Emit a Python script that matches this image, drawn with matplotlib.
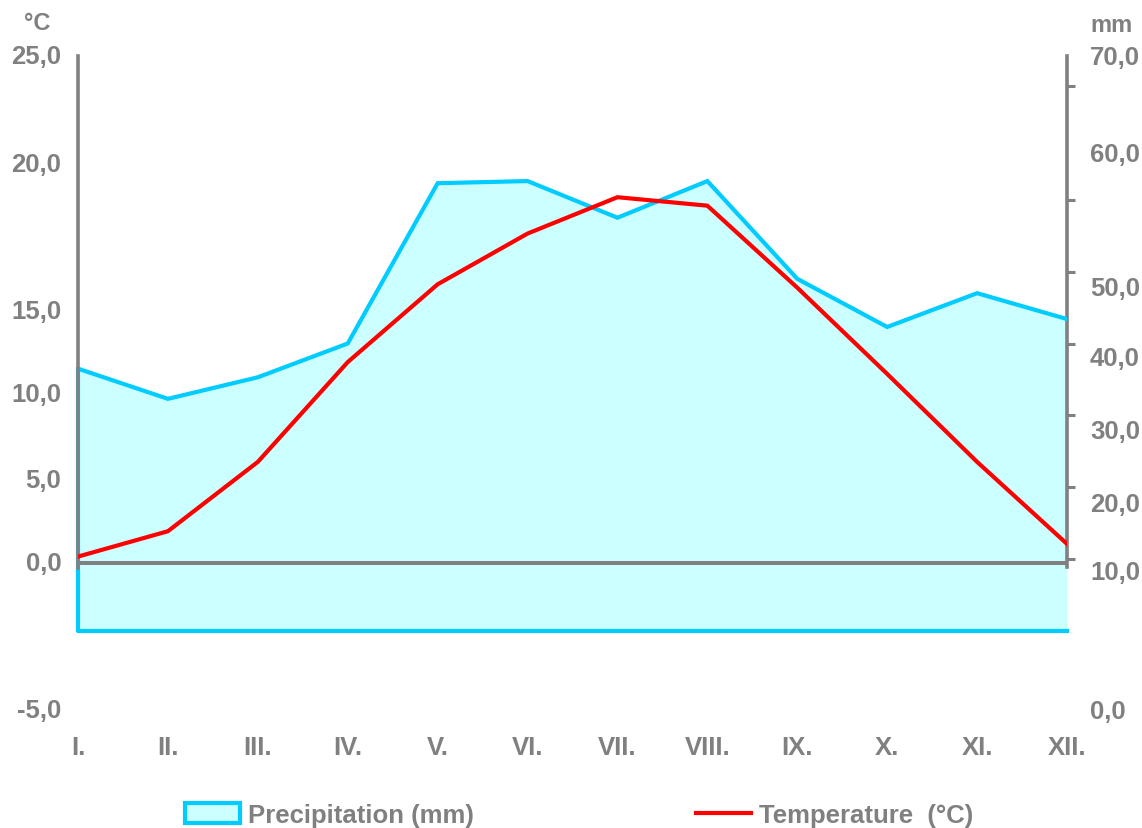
import matplotlib
matplotlib.use("Agg")
import matplotlib.pyplot as plt
from matplotlib.patches import Patch
from matplotlib.lines import Line2D

# ---- data ----
months = ["I.", "II.", "III.", "IV.", "V.", "VI.", "VII.", "VIII.", "IX.", "X.", "XI.", "XII."]
precipitation = [36.5, 32.3, 35.3, 40.0, 62.3, 62.6, 57.5, 62.6, 49.0, 42.3, 47.0, 43.4]
temperature = [0.4, 1.9, 6.0, 11.9, 16.5, 19.5, 21.65, 21.15, 16.3, 11.2, 6.0, 1.15]

left_labels = ["25,0", "20,0", "15,0", "10,0", "5,0", "0,0", "-5,0"]
right_labels = ["70,0", "60,0", "50,0", "40,0", "30,0", "20,0", "10,0", "0,0"]
right_ticks = [10, 20, 30, 40, 50, 60, 75.8]

# label placements as they appear in the reference (axis units)
left_label_pos = [30.0, 23.6, 14.95, 10.0, 4.95, 0.05, -8.7]
right_label_pos = [79.9, 66.4, 47.7, 38.0, 27.8, 17.7, 8.2, -11.1]

GRAY = "#808080"
CYAN = "#00CCFF"
FILL = "#CCFFFF"
RED = "#FF0000"
FONT = "Liberation Sans"
FS = 18.5

plt.rcParams["font.family"] = [FONT, "DejaVu Sans"]
plt.rcParams["font.weight"] = "bold"

W, H = 1142, 829
fig = plt.figure(figsize=(W / 100, H / 100), dpi=100)
L, R, T, B = 78, 1067, 57, 632
ax = fig.add_axes([L / W, 1 - B / H, (R - L) / W, (B - T) / H])
ax2 = ax.twinx()

x = list(range(len(months)))

# precipitation area (bottom axes)
ax.fill_between(x, 0, precipitation, color=FILL, lw=0, zorder=1)
ax.plot(x, precipitation, color=CYAN, lw=3.0, zorder=3, solid_joinstyle="miter")
ax.plot([x[0], x[0], x[-1]], [precipitation[0], 0, 0], color=CYAN, lw=3.0,
        zorder=2, clip_on=False, solid_capstyle="projecting")
ax.set_xlim(0, 11)
ax.set_ylim(0, 80)

# temperature (top axes)
ax2.axhline(0, color=GRAY, lw=2.9, zorder=1)
ax2.plot(x, temperature, color=RED, lw=3.0, zorder=3, solid_joinstyle="miter")
ax2.set_ylim(-4, 30)
ax2.set_xlim(0, 11)

# spines
for a in (ax, ax2):
    for s in a.spines.values():
        s.set_visible(False)
ax2.spines["left"].set_visible(True)
ax2.spines["left"].set_color(GRAY)
ax2.spines["left"].set_linewidth(2.6)
ax2.spines["left"].set_bounds(-0.25, 30)
ax.spines["right"].set_visible(True)
ax.spines["right"].set_color(GRAY)
ax.spines["right"].set_linewidth(2.6)
ax.spines["right"].set_bounds(8.9, 80)

# right tick marks (precipitation)
ax.yaxis.tick_right()
ax.set_yticks(right_ticks)
ax.set_yticklabels([])
ax.tick_params(axis="y", direction="out", length=5.5, width=2.2, color=GRAY)
ax2.set_yticks([])

# x labels
ax.set_xticks(x)
ax.set_xticklabels(months, fontsize=FS, fontweight="bold", color=GRAY)
ax.tick_params(axis="x", length=0, pad=75)
ax2.tick_params(axis="x", length=0, labelbottom=False)

# y labels as in reference
for lab, pos in zip(left_labels, left_label_pos):
    ax2.text(-0.017, pos, lab, transform=ax2.get_yaxis_transform(), ha="right",
             va="center", fontsize=FS, fontweight="bold", color=GRAY, clip_on=False)
for lab, pos in zip(right_labels, right_label_pos):
    ax.text(1.0232, pos, lab, transform=ax.get_yaxis_transform(), ha="left",
            va="center", fontsize=FS, fontweight="bold", color=GRAY, clip_on=False)

fig.text(37 / W, 1 - 23 / H, "°C", ha="center", va="center", fontsize=17,
         fontweight="bold", color=GRAY)
fig.text(1112 / W, 1 - 25 / H, "mm", ha="center", va="center", fontsize=17,
         fontweight="bold", color=GRAY)

handles = [Patch(facecolor=FILL, edgecolor=CYAN, linewidth=3),
           Line2D([0], [0], color=RED, lw=3)]
leg = fig.legend(handles, ["Precipitation (mm)", "Temperature  (°C)"],
                 loc="center left", bbox_to_anchor=(185 / W, 1 - 816 / H),
                 ncol=2, frameon=False, fontsize=FS, handlelength=2.14,
                 handleheight=0.8, handletextpad=0.31, columnspacing=8.65,
                 borderpad=0, borderaxespad=0)
for t in leg.get_texts():
    t.set_color(GRAY)
    t.set_fontweight("bold")

fig.savefig("out.png", dpi=100)
